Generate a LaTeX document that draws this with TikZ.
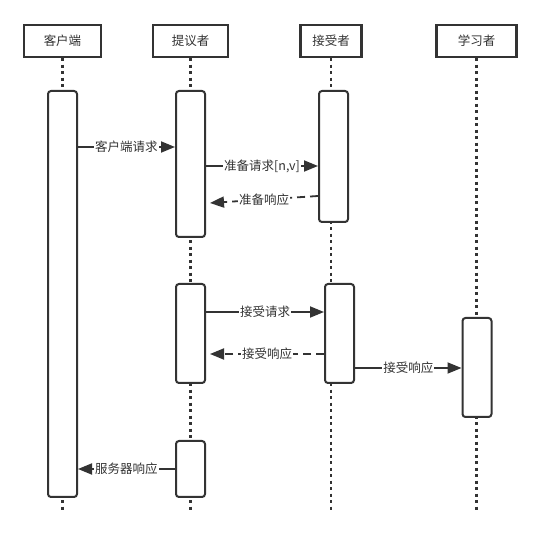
\documentclass[tikz,border=0pt]{standalone}
\usepackage{fontspec}
\newfontfamily\cjk{Noto Sans CJK SC}
\usetikzlibrary{arrows.meta,calc}
\definecolor{ink}{HTML}{333333}
\begin{document}
\begin{tikzpicture}[x=1pt,y=-1pt,
  hdr/.style={draw=ink,line width=2.2pt,fill=white,minimum height=32pt,inner sep=0pt,font=\cjk\fontsize{12.5}{14}\selectfont,text=ink},
  bar/.style={draw=ink,line width=2pt,fill=white,rounded corners=3pt,minimum width=29pt,inner sep=0pt},
  life/.style={draw=ink,line width=2.2pt,dash pattern=on 3pt off 3.5pt},
  msg/.style={draw=ink,line width=1.8pt,-{Triangle[length=14pt,width=11pt]}},
  reply/.style={msg,dash pattern=on 8pt off 5pt},
  lbl/.style={fill=white,inner sep=1pt,font=\cjk\fontsize{12.5}{14}\selectfont,text=ink}
]
\fill[white] (0,0) rectangle (542,540);
\useasboundingbox (0,0) rectangle (542,540);

% headers
\node[hdr,minimum width=77pt] (hc) at (62.5,41) {客户端};
\node[hdr,minimum width=75pt] (hp) at (190.5,41) {提议者};
\node[hdr,minimum width=61pt] (ha) at (331,41) {接受者};
\node[hdr,minimum width=80pt] (hl) at (476.5,41) {学习者};

% lifelines
\draw[life] (hc.south) -- (hc.south |- 0,512);
\draw[life] (hp.south) -- (hp.south |- 0,512);
\draw[life] (ha.south) -- (ha.south |- 0,512);
\draw[life] (hl.south) -- (hl.south |- 0,512);

% activation bars
\node[bar,minimum height=406pt] (cbar) at (62.5,294) {};
\node[bar,minimum height=146pt] (pbar1) at (190.5,164) {};
\node[bar,minimum height=131pt] (abar1) at (333.5,156.5) {};
\node[bar,minimum height=99pt] (pbar2) at (190.5,333.5) {};
\node[bar,minimum height=99pt] (abar2) at (339.5,333.5) {};
\node[bar,minimum height=99pt] (lbar) at (477,367.5) {};
\node[bar,minimum height=56pt] (pbar3) at (190.5,469) {};

% messages
\draw[msg] (cbar.east |- 0,147) -- node[lbl] (l1) {客户端请求} (pbar1.west |- 0,147);
\draw[msg] (pbar1.east |- 0,166) -- node[lbl] (l2) {准备请求[n,v]} (abar1.west |- 0,166);
\draw[reply] (abar1.west |- 0,196) -- node[lbl] (l3) {准备响应} ($(pbar1.east |- 0,203)+(4,0)$);
\draw[msg] (pbar2.east |- 0,312) -- node[lbl] (l4) {接受请求} (abar2.west |- 0,312);
\draw[reply] (abar2.west |- 0,354) -- node[lbl] (l5) {接受响应} ($(pbar2.east |- 0,354)+(4,0)$);
\draw[msg] (abar2.east |- 0,368) -- node[lbl] (l6) {接受响应} (lbar.west |- 0,368);
\draw[msg] (pbar3.west |- 0,469) -- node[lbl] (l7) {服务器响应} (cbar.east |- 0,469);
\end{tikzpicture}
\end{document}
